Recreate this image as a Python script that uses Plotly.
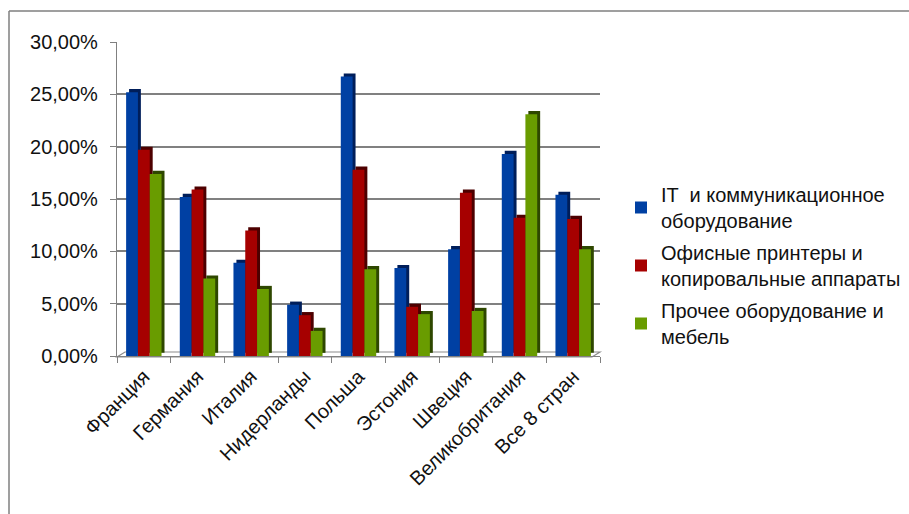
import plotly.graph_objects as go

categories = ["Франция", "Германия", "Италия", "Нидерланды", "Польша",
              "Эстония", "Швеция", "Великобритания", "Все 8 стран"]
series_names = ["IT  и коммуникационное<br>оборудование",
                "Офисные принтеры и<br>копировальные аппараты",
                "Прочее оборудование и<br>мебель"]
it_values = [0.252, 0.152, 0.089, 0.049, 0.267, 0.084, 0.102, 0.193, 0.154]
printer_values = [0.197, 0.159, 0.120, 0.039, 0.178, 0.047, 0.156, 0.132, 0.131]
other_values = [0.174, 0.074, 0.064, 0.024, 0.083, 0.040, 0.043, 0.231, 0.102]
y_ticks = [0, 0.05, 0.10, 0.15, 0.20, 0.25, 0.30]

face_colors = ["#0040A3", "#A60000", "#699C00"]
side_colors = ["#001E5A", "#4D0000", "#2E4700"]

W, H = 909, 514
L, R, T, B = 117, 600, 42, 356
ml, mr, mt, mb = L, W - R, T, H - B


def px(xp):
    return (xp - L) / (R - L)


def py(yp):
    return (B - yp) / (B - T)


bar_w = 0.22
offsets = [-0.33, -0.11, 0.11]
depth_x = 0.055
depth_y = 0.003

fig = go.Figure()
all_values = [it_values, printer_values, other_values]
for i, (name, vals) in enumerate(zip(series_names, all_values)):
    fig.add_trace(go.Bar(
        x=categories, y=vals, base=depth_y, width=bar_w,
        offset=offsets[i] + depth_x, marker=dict(color=side_colors[i], line=dict(width=0)),
        showlegend=False, hoverinfo="skip"))
    fig.add_trace(go.Bar(
        x=categories, y=vals, width=bar_w, offset=offsets[i], name=name,
        legendgroup=str(i),
        marker=dict(color=face_colors[i], line=dict(width=0))))

shapes = [
    # outer frame (left and top)
    dict(type="line", xref="paper", yref="paper", x0=px(9), x1=px(9), y0=py(11), y1=py(H + 5),
         line=dict(color="#7f7f7f", width=1.5)),
    dict(type="line", xref="paper", yref="paper", x0=px(9), x1=px(W + 5), y0=py(11), y1=py(11),
         line=dict(color="#7f7f7f", width=1.5)),
    # floor outline
    dict(type="path", xref="paper", yref="paper",
         path=f"M {px(L)},{py(B + 1)} L {px(R - 8)},{py(B + 1)} L {px(R)},{py(B - 4)} L {px(L + 8)},{py(B - 4)} Z",
         line=dict(color="#8c8c8c", width=1.2), fillcolor="rgba(0,0,0,0)", layer="below"),
]

fig.update_layout(
    width=W, height=H,
    margin=dict(l=ml, r=mr, t=mt, b=mb, autoexpand=False),
    paper_bgcolor="white", plot_bgcolor="white",
    barmode="overlay", separators=",.",
    font=dict(family="Liberation Sans, Arial, sans-serif", size=19, color="#111111"),
    showlegend=True,
    legend=dict(x=px(621), y=py(175), xanchor="left", yanchor="top",
                font=dict(size=20), tracegroupgap=3, itemwidth=30,
                bgcolor="rgba(0,0,0,0)"),
    shapes=shapes,
)
fig.update_xaxes(range=[-0.5, len(categories) - 0.5], tickangle=-45,
                 ticks="outside", tickson="boundaries", ticklen=6, tickcolor="#808080",
                 showline=True, linecolor="#808080", linewidth=1.2,
                 tickfont=dict(size=20), showgrid=False)
fig.update_yaxes(range=[0, 0.30], tickvals=y_ticks, tickformat=".2%",
                 ticks="outside", ticklen=6, tickcolor="#808080",
                 showline=True, linecolor="#808080", linewidth=1.2,
                 showgrid=True, gridcolor="#808080", gridwidth=1.5,
                 tickfont=dict(size=20), zeroline=False, ticklabelstandoff=8)

fig.write_html("out.html")
